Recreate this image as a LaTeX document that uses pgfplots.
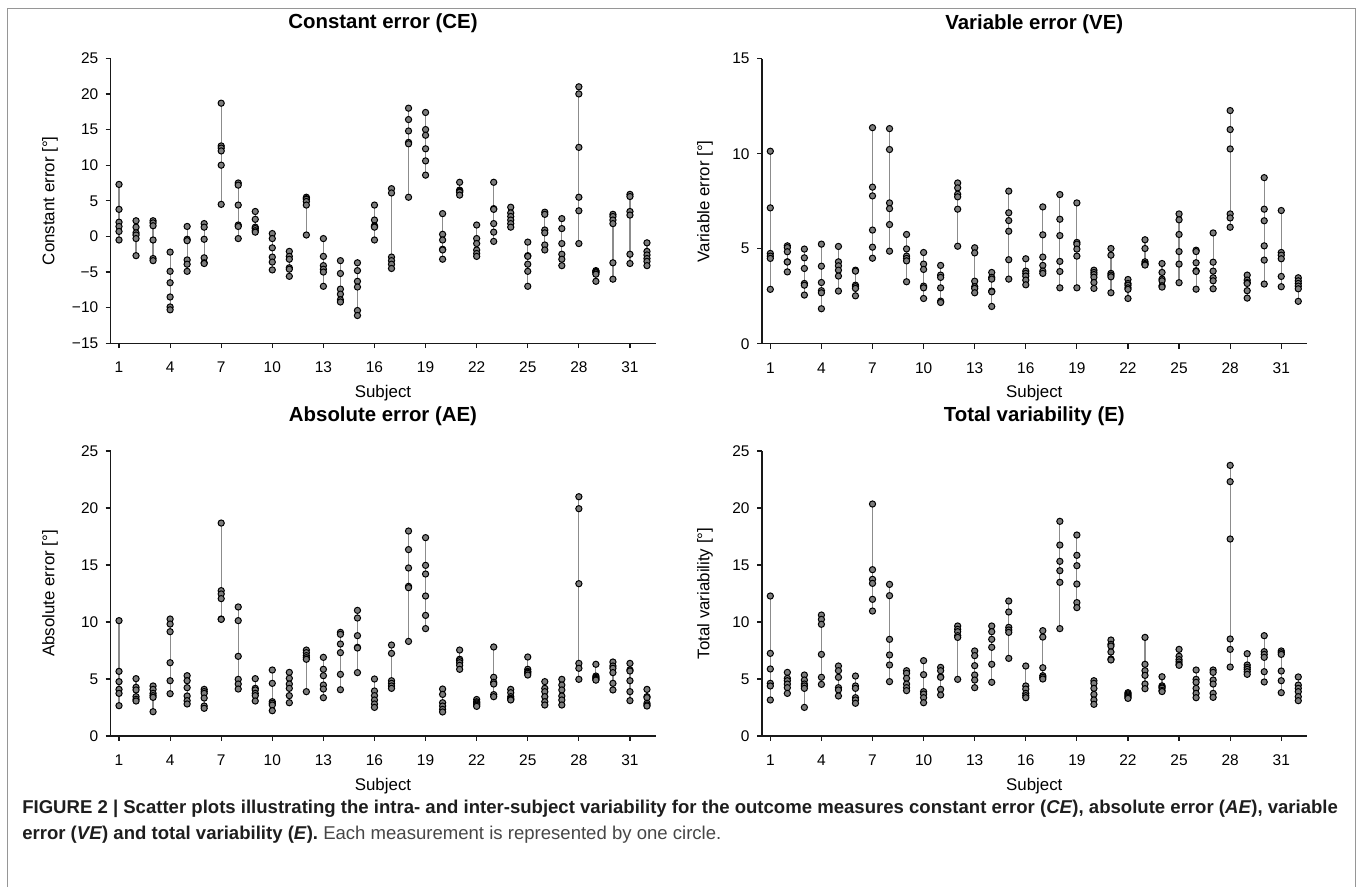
\documentclass[border=0pt]{standalone}
\usepackage{pgfplots}
\pgfplotsset{compat=1.18}
\usepackage{pgfplotstable}
\usepackage{fontspec}
\setmainfont{Liberation Sans}
\definecolor{ptfill}{RGB}{125,125,125}
\definecolor{vline}{RGB}{140,140,140}
\definecolor{axcol}{RGB}{25,25,25}
\definecolor{framecol}{RGB}{150,150,150}
\definecolor{capgray}{RGB}{70,70,70}

\pgfplotstableread[row sep=\\]{
s a b c d e f\\
1 7.3 3.8 2.0 1.4 0.7 -0.5\\
2 2.2 1.3 0.5 0.2 -0.3 -2.7\\
3 2.2 1.9 1.5 -0.5 -3.1 -3.4\\
4 -2.2 -4.9 -6.5 -8.5 -9.9 -10.3\\
5 1.4 -0.4 -0.6 -3.3 -3.9 -4.9\\
6 1.8 1.3 -0.4 -3.0 -3.7 -3.8\\
7 18.7 12.7 12.4 12.0 10.0 4.5\\
8 7.5 7.2 4.4 1.6 1.4 -0.3\\
9 3.5 2.4 1.3 1.1 0.8 0.6\\
10 0.4 -0.3 -1.6 -2.9 -3.6 -4.7\\
11 -2.1 -2.8 -3.2 -4.4 -4.6 -5.6\\
12 5.5 5.3 5.2 4.9 4.4 0.2\\
13 -0.3 -2.8 -4.1 -4.6 -5.0 -7.0\\
14 -3.4 -5.2 -7.4 -8.1 -8.9 -9.2\\
15 -3.7 -4.8 -6.3 -7.1 -10.4 -11.1\\
16 4.4 2.3 1.5 1.4 1.3 -0.5\\
17 6.7 6.1 -2.9 -3.4 -3.9 -4.5\\
18 18.0 16.4 14.8 13.2 13.0 5.5\\
19 17.4 15.0 14.2 12.3 10.6 8.6\\
20 3.2 0.3 -0.5 -1.8 -1.9 -3.2\\
21 7.6 6.5 6.4 6.3 6.2 5.8\\
22 1.6 -0.3 -1.0 -1.9 -2.4 -2.8\\
23 7.6 3.9 3.8 1.8 0.6 -0.7\\
24 4.1 3.3 2.8 2.3 1.8 1.3\\
25 -0.8 -2.7 -2.8 -3.9 -4.9 -7.0\\
26 3.4 3.1 0.9 0.5 -1.2 -1.9\\
27 2.5 1.1 -1.0 -2.5 -3.2 -4.1\\
28 21.0 20.0 12.5 5.5 3.6 -1.0\\
29 -4.8 -4.9 -5.0 -5.1 -5.3 -6.3\\
30 3.1 2.8 2.3 1.8 -3.7 -6.0\\
31 5.9 5.6 3.5 3.0 -2.5 -3.8\\
32 -0.9 -2.1 -2.6 -3.1 -3.5 -4.1\\
}\CE

\pgfplotstableread[row sep=\\]{
s a b c d e f\\
1 10.13 7.15 4.75 4.61 4.49 2.86\\
2 5.15 5.06 4.84 4.31 4.30 3.78\\
3 4.98 4.52 3.96 3.17 3.08 2.56\\
4 5.24 4.08 3.22 2.79 2.68 1.84\\
5 5.12 4.31 4.10 3.87 3.56 2.77\\
6 3.87 3.82 3.08 3.00 2.91 2.52\\
7 11.37 8.24 7.78 5.98 5.08 4.50\\
8 11.32 10.22 7.41 7.11 6.27 4.87\\
9 5.75 4.99 4.61 4.49 4.36 3.26\\
10 4.80 4.19 3.91 3.03 2.94 2.38\\
11 4.12 3.61 3.49 2.94 2.24 2.17\\
12 8.46 8.20 7.87 7.73 7.08 5.13\\
13 5.05 4.78 3.29 3.00 2.91 2.68\\
14 3.75 3.49 3.40 2.77 2.73 1.96\\
15 8.03 6.89 6.48 5.92 4.42 3.40\\
16 4.47 3.82 3.70 3.56 3.35 3.10\\
17 7.20 5.73 4.56 4.12 3.82 3.70\\
18 7.85 6.55 5.69 4.33 3.80 2.94\\
19 7.41 5.33 5.24 4.98 4.61 2.94\\
20 3.87 3.75 3.64 3.50 3.22 2.91\\
21 5.01 4.66 3.70 3.61 3.52 2.68\\
22 3.38 3.17 3.08 2.94 2.86 2.38\\
23 5.47 5.01 4.31 4.22 4.17 4.14\\
24 4.22 3.75 3.40 3.31 3.05 2.98\\
25 6.83 6.52 5.75 4.85 4.19 3.21\\
26 4.92 4.85 4.26 3.84 3.80 2.87\\
27 5.83 4.29 3.82 3.47 3.31 2.89\\
28 12.27 11.27 10.25 6.83 6.62 6.13\\
29 3.61 3.35 3.22 3.17 2.79 2.40\\
30 8.74 7.08 6.47 5.15 4.40 3.14\\
31 7.01 4.80 4.66 4.47 3.54 3.00\\
32 3.47 3.31 3.17 3.03 2.89 2.23\\
}\VE

\pgfplotstableread[row sep=\\]{
s a b c d e f\\
1 10.12 5.67 4.77 4.09 3.74 2.66\\
2 5.03 4.27 4.04 3.45 3.22 3.07\\
3 4.39 4.09 3.74 3.54 3.39 2.13\\
4 10.26 9.82 9.15 6.43 4.85 3.71\\
5 5.29 4.85 4.24 3.51 3.10 2.81\\
6 4.09 3.90 3.74 3.33 2.63 2.43\\
7 18.68 12.75 12.46 12.05 10.26 10.23\\
8 11.32 10.12 6.99 4.97 4.56 4.12\\
9 5.03 4.18 4.04 3.74 3.54 3.07\\
10 5.79 4.62 3.01 2.87 2.72 2.22\\
11 5.58 5.06 4.56 4.18 3.54 2.92\\
12 7.54 7.31 7.05 6.87 6.73 3.89\\
13 6.90 5.85 5.29 4.47 4.12 3.36\\
14 9.09 8.92 8.07 7.31 5.41 4.06\\
15 11.02 10.35 8.80 7.78 7.72 5.56\\
16 5.00 3.95 3.54 3.16 2.81 2.51\\
17 7.98 7.25 4.85 4.62 4.39 4.18\\
18 17.98 16.35 14.74 13.13 13.01 8.30\\
19 17.40 14.97 14.21 12.28 10.58 9.42\\
20 4.12 3.65 2.92 2.63 2.34 2.11\\
21 7.54 6.73 6.60 6.43 6.20 5.85\\
22 3.20 3.00 2.90 2.80 2.70 2.60\\
23 7.81 5.15 4.71 4.56 3.63 3.45\\
24 4.09 3.80 3.45 3.30 3.22 3.16\\
25 6.93 5.85 5.67 5.60 5.50 5.35\\
26 4.77 4.18 3.89 3.45 3.01 2.72\\
27 4.97 4.47 4.04 3.51 3.16 2.72\\
28 20.99 19.94 13.36 6.37 5.94 4.97\\
29 6.29 5.26 5.15 5.05 4.97 4.90\\
30 6.49 6.14 5.94 5.56 4.62 4.04\\
31 6.37 5.80 5.70 4.85 3.89 3.10\\
32 4.09 3.45 3.36 2.87 2.72 2.63\\
}\AE

\pgfplotstableread[row sep=\\]{
s a b c d e f\\
1 12.28 7.25 5.88 4.62 4.39 3.16\\
2 5.58 5.06 4.85 4.56 4.24 3.74\\
3 5.35 4.91 4.56 4.39 4.18 2.51\\
4 10.61 10.23 9.80 7.16 5.15 4.53\\
5 6.14 5.73 5.15 4.24 4.04 3.51\\
6 5.26 4.39 4.18 3.36 3.16 2.87\\
7 20.35 14.59 13.74 13.39 11.99 10.96\\
8 13.30 12.31 8.48 7.11 6.23 4.77\\
9 5.73 5.50 5.06 4.56 4.24 3.98\\
10 6.61 5.38 3.89 3.68 3.36 2.92\\
11 6.02 5.73 5.20 5.15 4.09 3.60\\
12 9.65 9.36 9.15 8.80 8.65 4.97\\
13 7.46 7.05 6.17 5.35 4.91 4.24\\
14 9.65 9.15 8.48 7.78 6.29 4.71\\
15 11.84 10.88 9.53 9.30 9.09 6.81\\
16 6.14 4.39 4.12 3.74 3.54 3.36\\
17 9.24 8.68 5.99 5.29 5.15 5.00\\
18 18.83 16.75 15.32 14.50 13.48 9.42\\
19 17.63 15.85 14.94 13.33 11.70 11.26\\
20 4.85 4.62 4.18 3.65 3.16 2.78\\
21 8.42 8.04 7.89 7.37 6.75 6.67\\
22 3.80 3.70 3.60 3.50 3.40 3.30\\
23 8.65 6.29 5.73 5.32 4.56 4.15\\
24 5.20 4.40 4.30 4.20 4.00 3.90\\
25 7.60 7.00 6.70 6.50 6.30 6.20\\
26 5.79 4.97 4.71 4.18 3.74 3.36\\
27 5.79 5.58 4.91 4.56 3.74 3.39\\
28 23.74 22.31 17.28 8.51 7.60 6.05\\
29 7.22 6.23 6.02 5.85 5.64 5.41\\
30 8.80 7.40 7.16 6.90 5.64 4.74\\
31 7.46 7.30 7.16 5.70 4.85 3.80\\
32 5.18 4.47 4.18 3.89 3.45 3.10\\
}\EE

\pgfplotsset{
  panel/.style={
    width=136.25mm, height=71.25mm, scale only axis,
    xmin=0.5, xmax=32.5, xtick={1,4,...,31},
    axis x line*=bottom, axis y line*=left,
    axis line style={axcol, line width=0.35mm},
    tick style={axcol, line width=0.3mm},
    tick align=outside, major tick length=1.2mm,
    minor tick num=0,
    /pgf/number format/assume math mode=true,
    ticklabel style={font=\fontsize{11}{13}\selectfont, text=black},
    yticklabel style={anchor=east, inner sep=0pt, xshift=-1.8mm},
    xticklabel style={anchor=north, inner sep=0pt, yshift=-3.4mm},
    title style={font=\bfseries\fontsize{14.5}{17}\selectfont, anchor=base, at={(0.5,1)}, yshift=5.3mm},
    xlabel={Subject},
    label style={font=\fontsize{12}{14}\selectfont},
    xlabel style={anchor=base, at={(0.5,0)}, yshift=-13.5mm},
    clip=false,
  },
  pts/.style={only marks, mark=*, mark size=0.78mm, mark options={fill=ptfill, draw=black, line width=0.25mm}},
  rng/.style={draw=none, forget plot, error bars/.cd, y dir=plus, y explicit, error mark=none, error bar style={draw=vline, line width=0.3mm}},
}

\begin{document}
\begin{tikzpicture}
\useasboundingbox (0,0) rectangle (340mm,-221.75mm);
\draw[framecol, line width=0.25mm] (1.75mm,-2.25mm) rectangle (338.75mm,-223mm);

% Constant error
\begin{axis}[panel, at={(27.625mm,-85.825mm)}, anchor=south west,
  ymin=-15, ymax=25, ytick={-15,-10,...,25},
  yticklabels={−15,−10,−5,0,5,10,15,20,25},
  title={Constant error (CE)}, ylabel={Constant error [°]},
  ylabel style={anchor=center, at={(axis description cs:-0.111,0.5)}}]
\addplot[rng] table[x=s, y=f, y error expr=\thisrow{a}-\thisrow{f}] {\CE};
\pgfplotsinvokeforeach{a,b,c,d,e,f}{\addplot[pts] table[x=s, y=#1] {\CE};}
\end{axis}

% Variable error
\begin{axis}[panel, at={(190.45mm,-85.925mm)}, anchor=south west,
  ymin=0, ymax=15, ytick={0,5,10,15},
  title={Variable error (VE)}, ylabel={Variable error [°]},
  ylabel style={anchor=center, at={(axis description cs:-0.104,0.5)}}]
\addplot[rng] table[x=s, y=f, y error expr=\thisrow{a}-\thisrow{f}] {\VE};
\pgfplotsinvokeforeach{a,b,c,d,e,f}{\addplot[pts] table[x=s, y=#1] {\VE};}
\end{axis}

% Absolute error
\begin{axis}[panel, at={(27.625mm,-184mm)}, anchor=south west,
  ymin=0, ymax=25, ytick={0,5,...,25},
  title={Absolute error (AE)}, ylabel={Absolute error [°]},
  ylabel style={anchor=center, at={(axis description cs:-0.111,0.5)}}]
\addplot[rng] table[x=s, y=f, y error expr=\thisrow{a}-\thisrow{f}] {\AE};
\pgfplotsinvokeforeach{a,b,c,d,e,f}{\addplot[pts] table[x=s, y=#1] {\AE};}
\end{axis}

% Total variability
\begin{axis}[panel, at={(190.45mm,-184mm)}, anchor=south west,
  ymin=0, ymax=25, ytick={0,5,...,25},
  title={Total variability (E)}, ylabel={Total variability [°]},
  ylabel style={anchor=center, at={(axis description cs:-0.104,0.5)}}]
\addplot[rng] table[x=s, y=f, y error expr=\thisrow{a}-\thisrow{f}] {\EE};
\pgfplotsinvokeforeach{a,b,c,d,e,f}{\addplot[pts] table[x=s, y=#1] {\EE};}
\end{axis}

\node[anchor=base west, inner sep=0pt, font=\bfseries\fontsize{13.2}{15}\selectfont, text={rgb,255:red,30;green,30;blue,30}] at (5.5mm,-203.4mm)
  {FIGURE 2 | Scatter plots illustrating the intra- and inter-subject variability for the outcome measures constant error (\textit{CE}), absolute error (\textit{AE}), variable};
\node[anchor=base west, inner sep=0pt, font=\fontsize{13.2}{15}\selectfont] at (5.5mm,-209.8mm)
  {\textcolor[RGB]{30,30,30}{\textbf{error (\textit{VE}) and total variability (\textit{E}).}} \textcolor{capgray}{Each measurement is represented by one circle.}};
\end{tikzpicture}
\end{document}
